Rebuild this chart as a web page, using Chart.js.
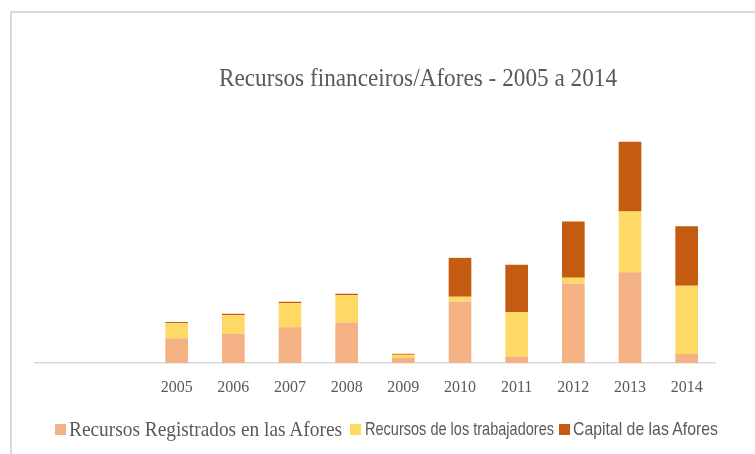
<!DOCTYPE html>
<html>
<head>
<meta charset="utf-8">
<script src="https://cdn.jsdelivr.net/npm/chart.js@4.4.1/dist/chart.umd.min.js"></script>
<style>
  html, body { margin: 0; padding: 0; background: #fff; }
  #wrap { position: relative; width: 755px; height: 454px; overflow: hidden; }
  #frame { position: absolute; left: 10px; top: 11px; width: 800px; height: 500px;
           border-top: 2px solid #d9d9d9; border-left: 2px solid #d9d9d9; }
  #myChart { position: absolute; left: 0; top: 0; }
  .txt { position: absolute; white-space: nowrap; color: #595959; transform-origin: 0 50%; }
  #title { font-family: "Liberation Serif", serif; font-size: 25px; top: 64px; }
  .box { position: absolute; width: 11px; height: 11px; }
</style>
</head>
<body>
<div id="wrap">
  <div id="frame"></div>
  <canvas id="myChart" width="755" height="454"></canvas>
  <div id="title" class="txt">Recursos financeiros/Afores - 2005 a 2014</div>
  <div id="legend"></div>
</div>
<script>
// two empty slots before 2005 on the category axis
var categories = ['', '', '2005', '2006', '2007', '2008', '2009', '2010', '2011', '2012', '2013', '2014'];
var seriesNames = ['Recursos Registrados en las Afores', 'Recursos de los trabajadores', 'Capital de las Afores'];
var seriesColors = ['#F4B183', '#FFD966', '#C55A11'];

var registrados   = [null, null, 24.5, 29.0, 35.7, 40.3, 5.0, 61.3, 6.3, 79.3, 90.3, 9.0];
var trabajadores  = [null, null, 15.3, 18.7, 24.0, 27.2, 3.2, 4.7, 44.3, 5.7, 60.7, 68.0];
var capital       = [null, null, 1.0, 1.3, 1.3, 1.5, 1.0, 38.7, 47.3, 56.0, 69.3, 59.3];

var seriesValues = [registrados, trabajadores, capital];

// fit a text element horizontally to a target width (source image is squeezed)
function fitText(el, width) {
  var w = el.getBoundingClientRect().width;
  el.style.transform = 'scaleX(' + (width / w) + ')';
}

document.addEventListener('DOMContentLoaded', function() {
  var ctx = document.getElementById('myChart').getContext('2d');

  var datasets = seriesNames.map(function (name, i) {
    return {
      label: name,
      data: seriesValues[i],
      backgroundColor: seriesColors[i],
      borderWidth: 0,
      categoryPercentage: 1,
      barPercentage: 0.4
    };
  });

  var myChart = new Chart(ctx, {
    type: 'bar',
    data: { labels: categories, datasets: datasets },
    options: {
      responsive: false,
      animation: false,
      layout: { padding: { left: 35, right: 40, top: 112, bottom: 0 } },
      plugins: {
        legend: { display: false },
        title: { display: false },
        tooltip: { enabled: false }
      },
      scales: {
        x: {
          stacked: true,
          grid: { display: false, drawTicks: false },
          border: { display: true, color: '#d9d9d9', width: 1.5 },
          ticks: {
            color: '#595959',
            padding: 15,
            font: { family: 'Liberation Serif', size: 16 }
          },
          afterFit: function (scale) { scale.height = 91; }
        },
        y: {
          stacked: true,
          display: false,
          min: 0,
          max: 250
        }
      }
    }
  });

  // title
  var title = document.getElementById('title');
  title.style.left = '219px';
  fitText(title, 398);

  // legend, built from the series
  var legend = document.getElementById('legend');
  var boxX = [55, 350, 559];
  var textX = [69, 365, 573];
  var textY = [417, 418, 418];
  var textW = [273, 189, 145];
  var fonts = ['21px "Liberation Serif", serif', '19px "Liberation Sans", sans-serif', '19px "Liberation Sans", sans-serif'];
  seriesNames.forEach(function (name, i) {
    var b = document.createElement('div');
    b.className = 'box';
    b.style.left = boxX[i] + 'px';
    b.style.top = '424px';
    b.style.background = seriesColors[i];
    legend.appendChild(b);

    var t = document.createElement('div');
    t.className = 'txt';
    t.textContent = name;
    t.style.font = fonts[i];
    t.style.left = textX[i] + 'px';
    t.style.top = textY[i] + 'px';
    legend.appendChild(t);
    fitText(t, textW[i]);
  });
});
</script>
</body>
</html>
